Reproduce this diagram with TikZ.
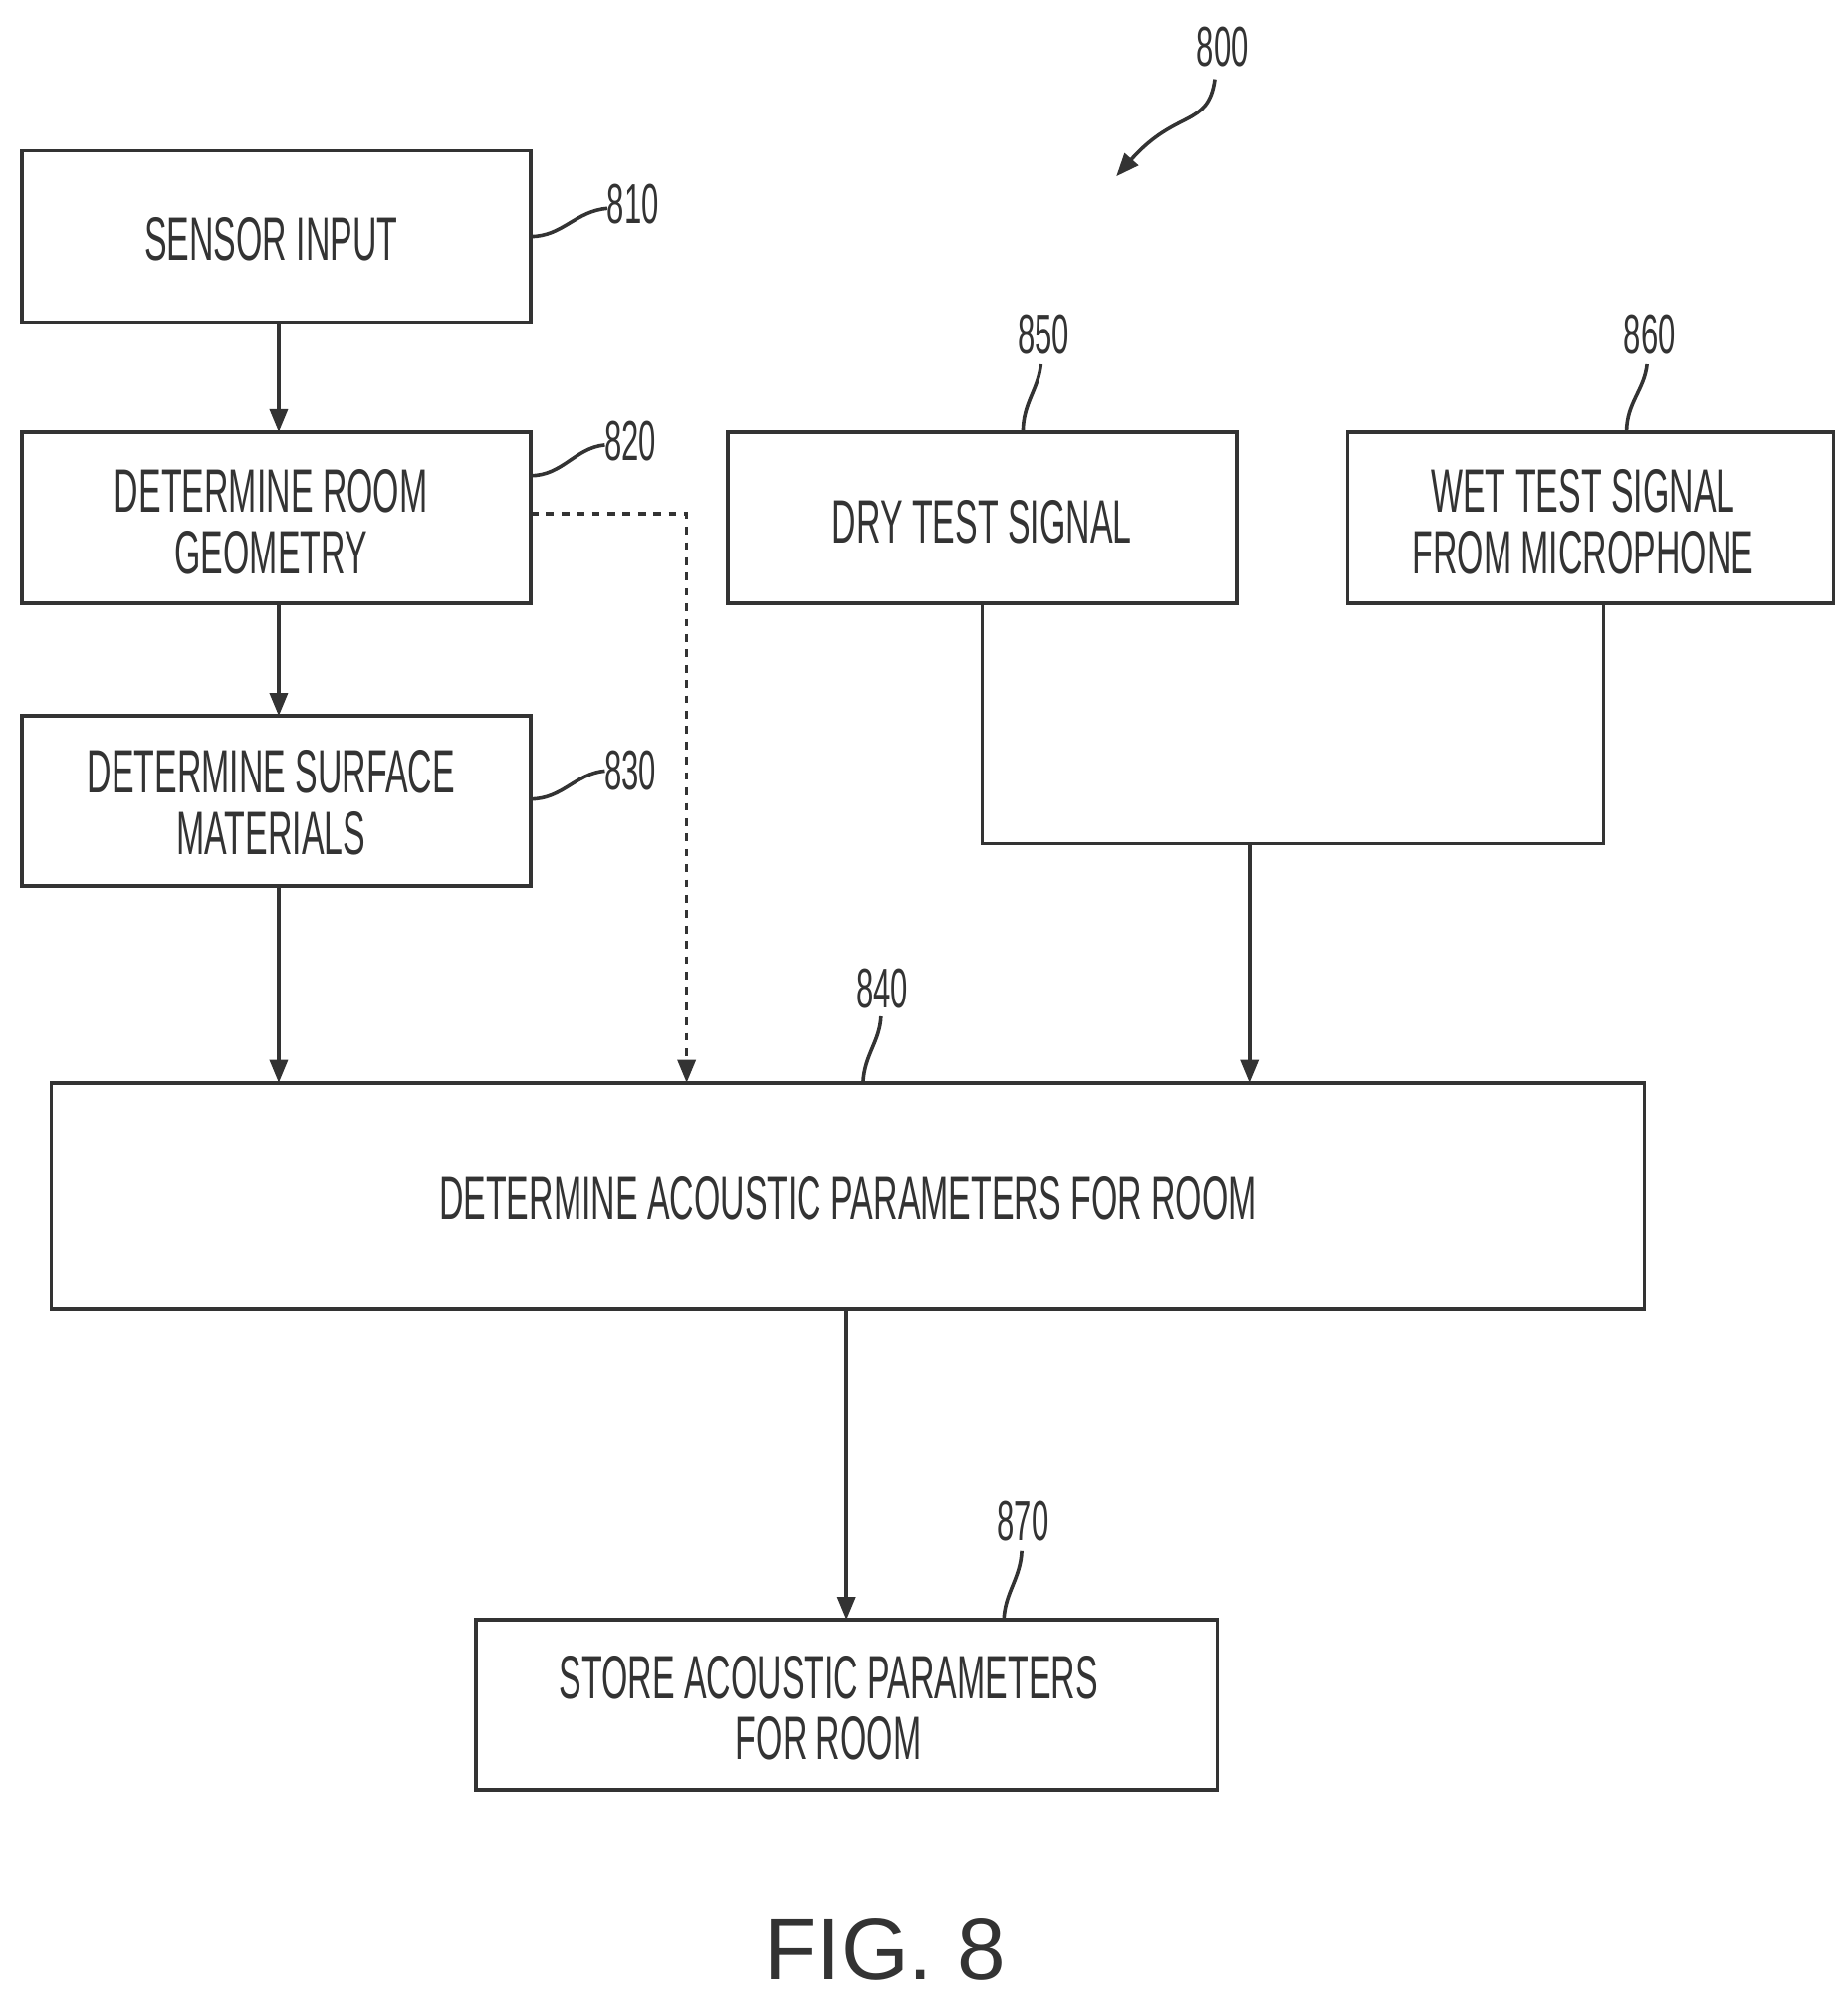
\documentclass[tikz,border=0pt]{standalone}
\usepackage{fontspec}
\setmainfont{Liberation Sans}
\newfontfamily\cond[FakeStretch=0.55]{Liberation Sans}
\usetikzlibrary{arrows.meta}
\begin{document}
\begin{tikzpicture}[x=0.5pt,y=-0.5pt,
  box/.style={draw=black!80,line width=1.4pt},
  txt/.style={font=\cond\fontsize{24}{24}\selectfont,align=center,text=black!80},
  lbl/.style={font=\cond\fontsize{22}{22}\selectfont,text=black!80},
  ln/.style={draw=black!80,line width=1.4pt},
  arr/.style={ln,-{Triangle[length=9pt,width=7pt]}}]
\useasboundingbox (0,0) rectangle (1445,1562);
\draw[box] (17,118) rectangle (415,252);
\node[txt] (t810) at (212,187) {SENSOR INPUT};
\draw[box] (17,338) rectangle (415,472);
\node[txt] (t820) at (212,408) {DETERMINE ROOM\\GEOMETRY};
\draw[box] (17,560) rectangle (415,693);
\node[txt] (t830) at (212,628) {DETERMINE SURFACE\\MATERIALS};
\draw[box] (569,338) rectangle (967,472);
\node[txt] (t850) at (768,408) {DRY TEST SIGNAL};
\draw[box] (1054,338) rectangle (1434,472);
\node[txt] (t860) at (1238,408) {WET TEST SIGNAL\\FROM MICROPHONE};
\draw[box] (40,847) rectangle (1286,1024);
\node[txt] (t840) at (663,937) {DETERMINE ACOUSTIC PARAMETERS FOR ROOM};
\draw[box] (372,1267) rectangle (952,1400);
\node[txt] (t870) at (648,1336) {STORE ACOUSTIC PARAMETERS\\FOR ROOM};
% labels
\node[lbl] (l810) at (495,160) {810};
\node[lbl] (l820) at (493,345) {820};
\node[lbl] (l830) at (493,603) {830};
\node[lbl] (l850) at (816,262) {850};
\node[lbl] (l860) at (1290,262) {860};
\node[lbl] (l840) at (690,773) {840};
\node[lbl] (l870) at (800,1190) {870};
\node[lbl] (l800) at (956,37) {800};
\draw[ln] (415,185) .. controls (440,185) and (450,165) .. (475,163);
\draw[ln] (415,372) .. controls (440,372) and (450,350) .. (473,348);
\draw[ln] (415,625) .. controls (440,625) and (450,605) .. (473,603);
\draw[ln] (800,338) .. controls (800,315) and (812,305) .. (814,285);
\draw[ln] (1272,338) .. controls (1272,315) and (1286,305) .. (1288,285);
\draw[ln] (675,847) .. controls (676,825) and (688,815) .. (689,795);
\draw[ln] (785,1267) .. controls (786,1245) and (798,1235) .. (799,1213);
\draw[arr] (950,62) .. controls (945,100) and (920,85) .. (873,138);
% connectors
\draw[arr] (218,252) -- (218,338);
\draw[arr] (218,472) -- (218,560);
\draw[arr] (218,693) -- (218,847);
\draw[arr,dashed] (415,402) -- (537,402) -- (537,847);
\draw[ln] (768,472) -- (768,660) -- (1254,660) -- (1254,472);
\draw[arr] (977,660) -- (977,847);
\draw[arr] (662,1024) -- (662,1267);
\node[font=\fontsize{34}{34}\selectfont,text=black!80] (fig) at (692,1525) {FIG. 8};
\end{tikzpicture}
\end{document}
